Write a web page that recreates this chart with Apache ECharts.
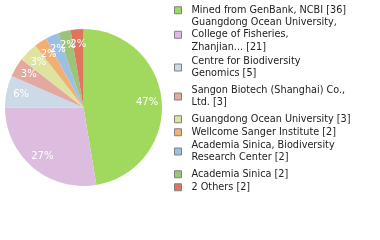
<!DOCTYPE html>
<html><head><meta charset="utf-8">
<script src="https://cdn.jsdelivr.net/npm/echarts@6/dist/echarts.min.js"></script>
<style>html,body{margin:0;padding:0;background:#fff}#c{width:380px;height:240px}</style>
</head><body><div id="c"></div>
<script>
var categories = [
  'Mined from GenBank, NCBI',
  'Guangdong Ocean University,\nCollege of Fisheries,\nZhanjian...',
  'Centre for Biodiversity\nGenomics',
  'Sangon Biotech (Shanghai) Co.,\nLtd.',
  'Guangdong Ocean University',
  'Wellcome Sanger Institute',
  'Academia Sinica, Biodiversity\nResearch Center',
  'Academia Sinica',
  '2 Others'
];
var counts = [36, 21, 5, 3, 3, 2, 2, 2, 2];
var colors = ['#a0d95e','#dcbde0','#cbdae6','#e2a9a0','#dee49f','#f1af74','#9ebfe4','#9dc37a','#df755d'];
var legendTops = [4, 16, 55, 84, 113, 126, 139, 168, 181];

var total = counts.reduce(function(a,b){return a+b;},0);
var data = categories.map(function(c,i){return {name:c, value:counts[i], itemStyle:{color:colors[i]}};});

var legends = categories.map(function(c,i){
  return {
    data:[c], orient:'vertical', left:174, top:legendTops[i], padding:0,
    icon:'rect', itemWidth:7, itemHeight:7,
    itemStyle:{borderColor:'#808080', borderWidth:1},
    selectedMode:false,
    formatter:function(n){return n + ' [' + counts[categories.indexOf(n)] + ']';},
    textStyle:{fontFamily:'DejaVu Sans', fontSize:9.7, color:'#222', lineHeight:12.5, padding:[0,0,0,5]}
  };
});

var chart = echarts.init(document.getElementById('c'), null, {renderer:'canvas'});
chart.setOption({
  animation:false,
  legend: legends,
  series:[
    {type:'pie', center:[83.5,107.5], radius:78.5, startAngle:90, clockwise:true,
     data:data, label:{show:false}, labelLine:{show:false}, emphasis:{disabled:true}},
    {type:'pie', center:[83.5,107.5], radius:[43,78.5], startAngle:90, clockwise:true,
     silent:true, legendHoverLink:false, avoidLabelOverlap:false,
     labelLayout:{hideOverlap:false},
     data:categories.map(function(c,i){return {name:c+' ', value:counts[i], itemStyle:{color:'rgba(0,0,0,0)'}};}),
     label:{show:true, position:'inside', color:'#fff', fontFamily:'DejaVu Sans', fontSize:10,
       formatter:function(p){return Math.floor(p.value/total*100)+'%';}},
     labelLine:{show:false}, emphasis:{disabled:true}}
  ]
});
</script></body></html>
